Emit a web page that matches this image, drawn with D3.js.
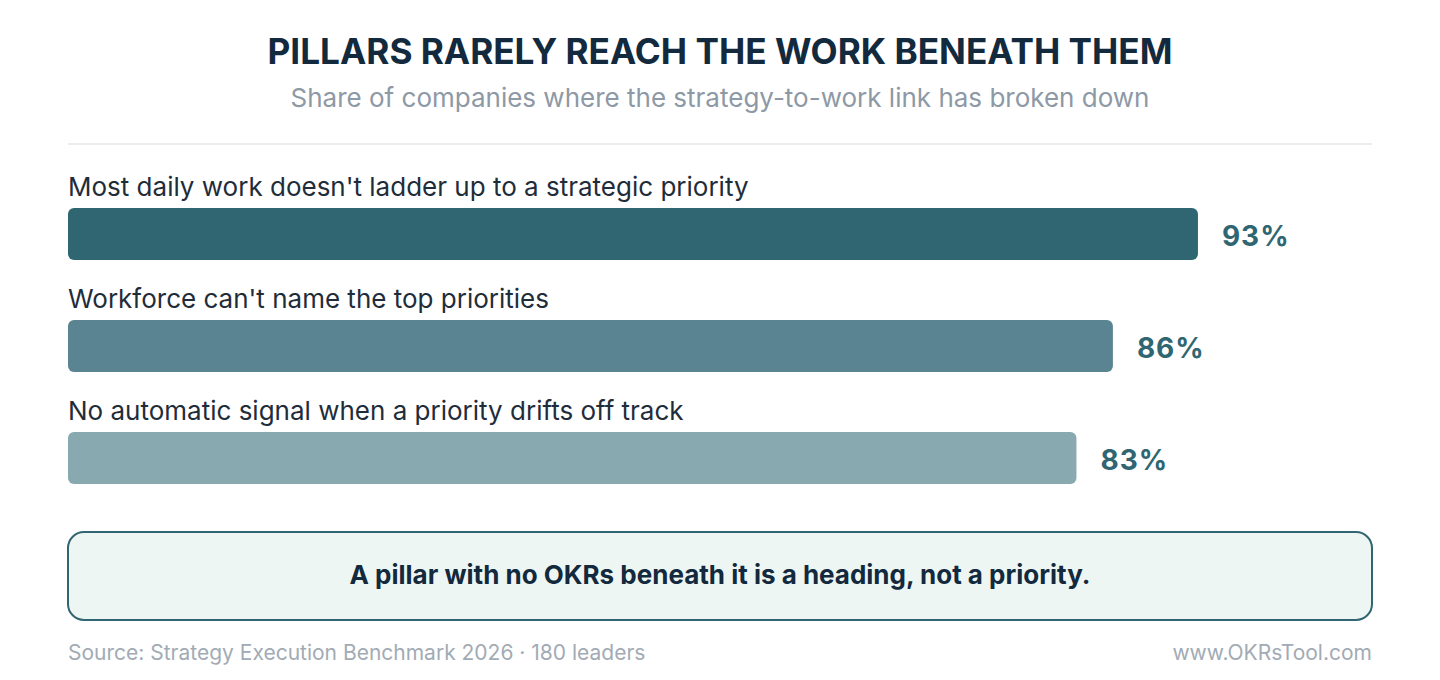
<!DOCTYPE html>
<html>
<head>
<meta charset="utf-8">
<script src="https://cdn.jsdelivr.net/npm/d3@7"></script>
<style>
  html, body { margin: 0; padding: 0; background: #fff; }
  svg { display: block; font-family: Inter, "Noto Sans", sans-serif; }
</style>
</head>
<body>
<script>
const width = 1440;
const height = 680;
const margin = { left: 68, right: 68 };

const categories = [
  "Most daily work doesn't ladder up to a strategic priority",
  "Workforce can't name the top priorities",
  "No automatic signal when a priority drifts off track"
];
const values = [93, 86, 83];
const barColors = ["#2f6672", "#5a8491", "#89a9b1"];

const title = "PILLARS RARELY REACH THE WORK BENEATH THEM";
const subtitle = "Share of companies where the strategy-to-work link has broken down";
const callout = "A pillar with no OKRs beneath it is a heading, not a priority.";
const source = "Source: Strategy Execution Benchmark 2026 · 180 leaders";
const site = "www.OKRsTool.com";

const svg = d3
  .select("body")
  .append("svg")
  .attr("width", width)
  .attr("height", height);

svg
  .append("text")
  .attr("x", width / 2)
  .attr("y", 64)
  .attr("text-anchor", "middle")
  .style("font-size", "35.2px")
  .style("font-weight", 700)
  .style("fill", "#13293d")
  .text(title);

svg
  .append("text")
  .attr("x", width / 2)
  .attr("y", 107)
  .attr("text-anchor", "middle")
  .style("font-size", "26px")
  .style("fill", "#8d99a5")
  .text(subtitle);

svg
  .append("line")
  .attr("x1", margin.left)
  .attr("x2", width - margin.right)
  .attr("y1", 144)
  .attr("y2", 144)
  .attr("stroke", "#e3e8ec")
  .attr("stroke-width", 1.5);

const x = d3.scaleLinear().domain([0, 100]).range([margin.left, margin.left + 1215]);

// each row: label above, bar below
const y = d3
  .scaleBand()
  .domain(categories)
  .range([208, 208 + 112 * categories.length])
  .paddingInner(0)
  .paddingOuter(0);

const rows = svg
  .append("g")
  .selectAll("g")
  .data(categories)
  .join("g")
  .attr("transform", (d) => `translate(0, ${y(d)})`);

rows
  .append("text")
  .attr("x", margin.left)
  .attr("y", -12)
  .style("font-size", "26px")
  .style("fill", "#1f2d3a")
  .text((d) => d);

rows
  .append("rect")
  .attr("x", x(0))
  .attr("y", 0)
  .attr("width", (d, i) => x(values[i]) - x(0))
  .attr("height", 52)
  .attr("rx", 6)
  .attr("fill", (d, i) => barColors[i]);

rows
  .append("text")
  .attr("x", (d, i) => x(values[i]) + 24)
  .attr("y", 28)
  .attr("dy", "0.36em")
  .style("font-size", "28px")
  .style("font-weight", 700)
  .style("letter-spacing", "1px")
  .style("fill", "#2f6672")
  .text((d, i) => values[i] + "%");

svg
  .append("rect")
  .attr("x", margin.left)
  .attr("y", 532)
  .attr("width", width - margin.left - margin.right)
  .attr("height", 88)
  .attr("rx", 16)
  .attr("fill", "#edf6f3")
  .attr("stroke", "#2f6672")
  .attr("stroke-width", 2);

svg
  .append("text")
  .attr("x", width / 2)
  .attr("y", 575)
  .attr("dy", "0.36em")
  .attr("text-anchor", "middle")
  .style("font-size", "26px")
  .style("font-weight", 700)
  .style("fill", "#13293d")
  .text(callout);

svg
  .append("text")
  .attr("x", margin.left)
  .attr("y", 660)
  .style("font-size", "21px")
  .style("fill", "#a2abb4")
  .text(source);

svg
  .append("text")
  .attr("x", width - margin.right)
  .attr("y", 660)
  .attr("text-anchor", "end")
  .style("font-size", "21px")
  .style("fill", "#a2abb4")
  .text(site);
</script>
</body>
</html>
